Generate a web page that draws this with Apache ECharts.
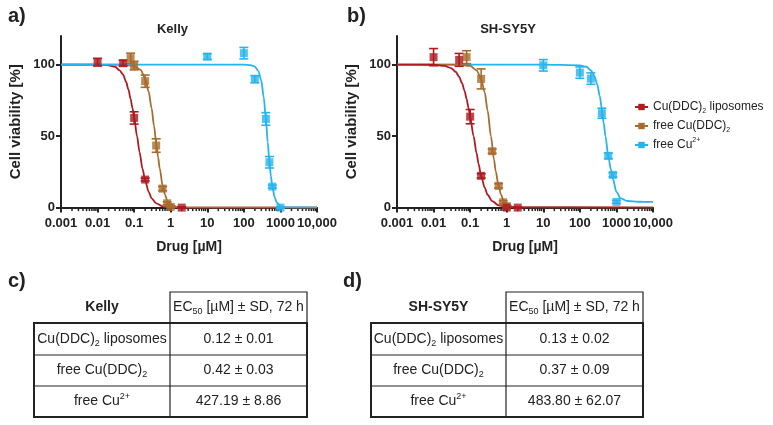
<!DOCTYPE html>
<html>
<head>
<meta charset="utf-8">
<script src="https://cdn.jsdelivr.net/npm/echarts@6/dist/echarts.min.js"></script>
<style>
  html, body { margin: 0; padding: 0; background: #fff; }
  #chart { width: 773px; height: 425px; }
</style>
</head>
<body>
<div id="chart"></div>
<script>
const FONT = '"Liberation Sans", Arial, sans-serif';
const INK = '#222';
const RED = '#ad1a1f', BROWN = '#a86b2d', CYAN = '#25b4ec';

const seriesNames = ['Cu(DDC)2 liposomes', 'free Cu(DDC)2', 'free Cu2+'];
const legendLabels = ['Cu(DDC){sub|2} liposomes', 'free Cu(DDC){sub|2}', 'free Cu{sup|2+}'];
const panelTitles = ['Kelly', 'SH-SY5Y'];
const xTickLabels = ['0.001', '0.01', '0.1', '1', '10', '100', '1000', '10,000'];
const yTickValues = [0, 50, 100];
const decades = [0.001, 0.01, 0.1, 1, 10, 100, 1000];
const minorSteps = [2, 3, 4, 5, 6, 7, 8, 9];

// mean viability [conc µM, %, SD]
const kellyLipo = [[0.01, 101.7, 2.7], [0.05, 101, 2], [0.1, 62.7, 4.3], [0.2, 19.6, 1], [2, 0, 0.5]];
const kellyFree = [[0.08, 104.5, 3.5], [0.1, 99.3, 3], [0.2, 88.4, 4.3], [0.4, 43.4, 4.7], [0.6, 13.3, 1.5], [0.8, 3, 1], [1, 0.5, 0.5]];
const kellyCu = [[10, 105.6, 2], [100, 108, 4], [200, 89.8, 2.5], [400, 62, 4.4], [500, 31.7, 4], [600, 14.7, 1], [1000, 0, 0.5]];

const shLipo = [[0.01, 105.2, 6], [0.05, 103.3, 4.5], [0.1, 63.6, 5], [0.2, 22.2, 1.5], [1, 0, 0.5], [2, 0, 0.5]];
const shFree = [[0.08, 105.2, 4.5], [0.2, 90, 7], [0.4, 39.4, 1.5], [0.6, 15.2, 1.5], [0.8, 3.7, 1], [1, 1, 0.5]];
const shCu = [[10, 99.5, 4], [100, 94.4, 4], [200, 90.2, 4], [400, 66, 3.5], [600, 36.2, 2], [800, 22.9, 1.5], [1000, 4, 1]];

// fitted curves
const kellyLipoFit = [[0.001, 100], [0.01, 100], [0.02, 99.5], [0.03, 98.5], [0.04, 96], [0.05, 93], [0.06, 88], [0.07, 82.5], [0.08, 76], [0.09, 69.5], [0.1, 63], [0.12, 50], [0.14, 39], [0.17, 27], [0.2, 19], [0.25, 11], [0.3, 6.5], [0.4, 3], [0.6, 0.9], [1, 0.2], [2, 0], [10000, 0]];
const kellyFreeFit = [[0.001, 100], [0.05, 100], [0.1, 99], [0.15, 96.3], [0.2, 90.4], [0.25, 81], [0.3, 69.5], [0.35, 57], [0.4, 45.5], [0.45, 35.5], [0.5, 27.5], [0.6, 15.5], [0.7, 9], [0.8, 5], [1, 2], [1.5, 0.4], [3, 0], [10000, 0]];
const kellyCuFit = [[0.001, 100], [100, 100], [150, 99.7], [200, 98.6], [250, 95.5], [300, 88.7], [350, 77], [400, 62], [450, 45.7], [500, 31.9], [550, 22], [600, 14.7], [700, 6.9], [800, 3.4], [1000, 1], [1500, 0.1], [10000, 0]];

const shLipoFit = [[0.001, 100], [0.01, 99.9], [0.02, 99.1], [0.03, 97.6], [0.04, 95], [0.05, 91.5], [0.06, 87], [0.07, 81.8], [0.08, 76], [0.09, 69.8], [0.1, 63.6], [0.124, 50], [0.15, 38], [0.17, 30.5], [0.2, 22], [0.25, 14], [0.3, 9], [0.4, 4.5], [0.6, 1.6], [1, 0.4], [2, 0.1], [10000, 0]];
const shFreeFit = [[0.001, 100], [0.05, 100], [0.1, 99.1], [0.15, 96], [0.2, 90], [0.25, 80.5], [0.3, 68], [0.37, 50], [0.45, 33.5], [0.5, 25.5], [0.6, 15], [0.7, 9], [0.8, 5.5], [1, 2.5], [1.5, 0.5], [2, 0.2], [10000, 0]];
const shCuFit = [[0.001, 100], [10, 100], [100, 99.5], [150, 98.5], [200, 96], [250, 92], [300, 86], [350, 78], [400, 69], [450, 59], [500, 50], [600, 36], [700, 27], [800, 20], [1000, 11], [1300, 6.5], [2000, 4.6], [4000, 4.1], [10000, 4]];

// EC50 tables
const tableHeader = 'EC{sub|50} [µM] ± SD, 72 h';
const tableRows = ['Cu(DDC){sub|2} liposomes', 'free Cu(DDC){sub|2}', 'free Cu{sup|2+}'];
const kellyEC50 = ['0.12 ± 0.01', '0.42 ± 0.03', '427.19 ± 8.86'];
const shEC50 = ['0.13 ± 0.02', '0.37 ± 0.09', '483.80 ± 62.07'];

const chart = echarts.init(document.getElementById('chart'));

const grids = [
  { left: 61, top: 36, width: 256, height: 171.6 },
  { left: 397, top: 36, width: 256, height: 171.6 }
];

function richStyles(size, weight) {
  return {
    sub: { fontSize: size - 5, lineHeight: size - 5, verticalAlign: 'bottom', fontFamily: FONT, fill: INK, color: INK, fontWeight: weight },
    sup: { fontSize: size - 5, lineHeight: size - 5, verticalAlign: 'top', fontFamily: FONT, fill: INK, color: INK, fontWeight: weight }
  };
}

const xAxes = grids.map((g, i) => ({
  type: 'log', logBase: 10, min: 0.001, max: 10000, gridIndex: i,
  name: 'Drug [µM]', nameLocation: 'middle', nameGap: 33,
  nameTextStyle: { fontFamily: FONT, fontWeight: 'bold', fontSize: 14, color: INK },
  axisLine: { lineStyle: { color: INK, width: 2 } },
  axisTick: { length: 5, interval: 0, lineStyle: { color: INK, width: 2 } },
  axisLabel: {
    interval: 0, margin: 9, fontFamily: FONT, fontWeight: 'bold', fontSize: 13, color: INK,
    formatter: v => xTickLabels[Math.round(Math.log10(v)) + 3] || ''
  },
  splitLine: { show: false }
}));

const yAxes = grids.map((g, i) => ({
  type: 'value', min: 0, max: 120, interval: 50, gridIndex: i,
  name: 'Cell viability [%]', nameLocation: 'middle', nameGap: 38,
  nameTextStyle: { fontFamily: FONT, fontWeight: 'bold', fontSize: 15, color: INK },
  axisLine: { show: true, lineStyle: { color: INK, width: 2 } },
  axisTick: { show: true, length: 5, customValues: yTickValues, lineStyle: { color: INK, width: 2 } },
  axisLabel: { margin: 6, customValues: yTickValues, fontFamily: FONT, fontWeight: 'bold', fontSize: 13, color: INK },
  splitLine: { show: false }
}));

const minorTicks = [];
decades.forEach(d => minorSteps.forEach(m => minorTicks.push([d * m, 0])));

function errorBars(points, color, i) {
  return {
    type: 'custom', xAxisIndex: i, yAxisIndex: i, z: 3, silent: true,
    data: points, encode: { x: 0, y: 1 },
    renderItem: (params, api) => {
      const x = api.value(0), y = api.value(1), sd = api.value(2);
      const hi = api.coord([x, y + sd]), lo = api.coord([x, y - sd]);
      const w = 4.5;
      const style = { stroke: color, lineWidth: 1.6 };
      return {
        type: 'group', children: [
          { type: 'line', shape: { x1: hi[0], y1: hi[1], x2: lo[0], y2: lo[1] }, style },
          { type: 'line', shape: { x1: hi[0] - w, y1: hi[1], x2: hi[0] + w, y2: hi[1] }, style },
          { type: 'line', shape: { x1: lo[0] - w, y1: lo[1], x2: lo[0] + w, y2: lo[1] }, style }
        ]
      };
    }
  };
}

function panelSeries(i, sets) {
  const out = [];
  out.push({
    type: 'custom', xAxisIndex: i, yAxisIndex: i, silent: true, z: 1,
    data: minorTicks, encode: { x: 0, y: 1 },
    renderItem: (params, api) => {
      const p = api.coord([api.value(0), 0]);
      return { type: 'line', shape: { x1: p[0], y1: p[1], x2: p[0], y2: p[1] + 3.5 }, style: { stroke: INK, lineWidth: 1.5 } };
    }
  });
  sets.forEach(s => {
    out.push({
      type: 'line', name: s.name, xAxisIndex: i, yAxisIndex: i, z: 2,
      data: s.fit, smooth: 0.3, smoothMonotone: 'x', showSymbol: false,
      symbol: 'rect', symbolSize: 8, color: s.color,
      lineStyle: { color: s.color, width: 1.8 }, itemStyle: { color: s.color },
      silent: true
    });
  });
  sets.forEach(s => {
    out.push(errorBars(s.points, s.color, i));
    out.push({
      type: 'scatter', xAxisIndex: i, yAxisIndex: i, z: 4,
      data: s.points.map(p => [p[0], p[1]]),
      symbol: 'rect', symbolSize: 8, itemStyle: { color: s.color }
    });
  });
  return out;
}

const series = [].concat(
  panelSeries(0, [
    { name: seriesNames[0], color: RED, points: kellyLipo, fit: kellyLipoFit },
    { name: seriesNames[1], color: BROWN, points: kellyFree, fit: kellyFreeFit },
    { name: seriesNames[2], color: CYAN, points: kellyCu, fit: kellyCuFit }
  ]),
  panelSeries(1, [
    { name: seriesNames[2], color: CYAN, points: shCu, fit: shCuFit },
    { name: seriesNames[1], color: BROWN, points: shFree, fit: shFreeFit },
    { name: seriesNames[0], color: RED, points: shLipo, fit: shLipoFit }
  ])
);

// graphic: panel letters, titles, tables
const graphic = [];
function label(text, x, y, size, weight, align) {
  graphic.push({
    type: 'text', x, y, silent: true,
    style: {
      text, fontFamily: FONT, fontSize: size, fontWeight: weight, fill: INK,
      align: align || 'center', verticalAlign: 'middle', lineHeight: size + 4,
      rich: richStyles(size, weight)
    }
  });
}
label('a)', 8, 16.5, 20, 'bold', 'left');
label('b)', 347, 16.5, 20, 'bold', 'left');
label('c)', 8, 281, 20, 'bold', 'left');
label('d)', 343, 281, 20, 'bold', 'left');
label(panelTitles[0], 172.5, 29, 13, 'bold');
label(panelTitles[1], 508, 29, 13, 'bold');

function line(x1, y1, x2, y2, w) {
  graphic.push({ type: 'line', silent: true, shape: { x1, y1, x2, y2 }, style: { stroke: INK, lineWidth: w } });
}

function table(x0, xDiv, x1, title, values) {
  const yTop = 292, yHead = 323, rowEdges = [323, 355, 386, 417];
  graphic.push({
    type: 'polyline', silent: true,
    shape: { points: [[xDiv, yHead], [xDiv, yTop], [x1, yTop], [x1, yHead]] },
    style: { stroke: INK, lineWidth: 1.2, fill: null }
  });
  line(xDiv, yHead, xDiv, rowEdges[3], 1.2);
  line(x0, rowEdges[1], x1, rowEdges[1], 1.2);
  line(x0, rowEdges[2], x1, rowEdges[2], 1.2);
  graphic.push({
    type: 'rect', silent: true,
    shape: { x: x0, y: yHead, width: x1 - x0, height: rowEdges[3] - yHead },
    style: { stroke: INK, lineWidth: 2, fill: null }
  });
  label(title, (x0 + xDiv) / 2, (yTop + yHead) / 2, 14, 'bold');
  label(tableHeader, (xDiv + x1) / 2, (yTop + yHead) / 2, 14, 'normal');
  tableRows.forEach((r, k) => {
    const yc = (rowEdges[k] + rowEdges[k + 1]) / 2;
    label(r, (x0 + xDiv) / 2, yc, 14, 'normal');
    label(values[k], (xDiv + x1) / 2, yc, 14, 'normal');
  });
}
table(34, 170, 307, panelTitles[0], kellyEC50);
table(371, 506, 643, panelTitles[1], shEC50);

chart.setOption({
  backgroundColor: '#fff',
  animation: false,
  grid: grids.map(g => Object.assign({ outerBoundsMode: 'none' }, g)),
  xAxis: xAxes,
  yAxis: yAxes,
  legend: {
    orient: 'vertical', left: 634, top: 99, padding: 0, itemGap: 3,
    itemWidth: 13, itemHeight: 8,
    data: seriesNames,
    formatter: n => legendLabels[seriesNames.indexOf(n)],
    textStyle: {
      fontFamily: FONT, fontSize: 12, color: INK, lineHeight: 16,
      rich: richStyles(12, 'normal')
    }
  },
  series,
  graphic
});
</script>
</body>
</html>
